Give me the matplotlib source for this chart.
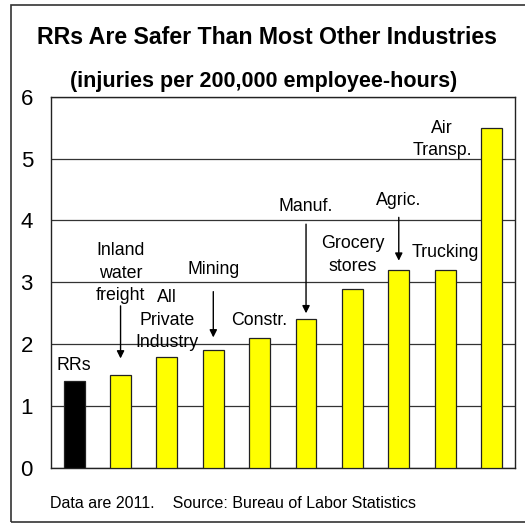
import matplotlib
matplotlib.use("Agg")
import matplotlib.pyplot as plt
from matplotlib.patches import Rectangle

plt.rcParams['font.family'] = ['Liberation Sans', 'DejaVu Sans']

# Injury rates by industry (2011)
industries = ["RRs", "Inland water freight", "All Private Industry", "Mining", "Constr.",
              "Manuf.", "Grocery stores", "Agric.", "Trucking", "Air Transp."]
rates = [1.4, 1.5, 1.8, 1.9, 2.1, 2.4, 2.9, 3.2, 3.2, 5.5]
bar_colors = ["black"] + ["#ffff00"] * 9
y_ticks = [0, 1, 2, 3, 4, 5, 6]

# Category labels: (text, x position in category units, y position in data units)
labels = [
    ("RRs", 0, 1.65),
    ("Inland\nwater\nfreight", 1, 3.15),
    ("All\nPrivate\nIndustry", 2, 2.39),
    ("Mining", 3, 3.21),
    ("Constr.", 4, 2.39),
    ("Manuf.", 5, 4.23),
    ("Grocery\nstores", 6, 3.44),
    ("Agric.", 7, 4.32),
    ("Trucking", 8, 3.49),
    ("Air\nTransp.", 7.93, 5.31),
]
# Pointer arrows: (x, y start, y end)
arrows = [(1, 2.62, 1.77), (3, 2.85, 2.11), (5, 3.94, 2.50), (7, 4.05, 3.35)]

W, H = 525, 523
fig = plt.figure(figsize=(W / 100, H / 100), dpi=100)
ax = fig.add_axes([51 / W, 1 - 468 / H, (514.7 - 51) / W, (468 - 96.7) / H])

x = list(range(len(rates)))
ax.bar(x, rates, width=0.45, color=bar_colors, edgecolor="#222222", linewidth=0.9, zorder=3)

ax.set_xlim(-0.5, len(rates) - 0.5)
ax.set_ylim(0, 6)
ax.set_yticks(y_ticks)
ax.set_yticklabels([str(t) for t in y_ticks], fontsize=16)
ax.tick_params(axis="y", length=0, pad=13)
ax.set_xticks([])
ax.yaxis.grid(True, color="#333333", linewidth=0.9)
ax.set_axisbelow(True)
for s in ax.spines.values():
    s.set_color("#222222")
    s.set_linewidth(1.0)

for text, xp, yp in labels:
    ax.text(xp, yp, text, ha="center", va="center", fontsize=12.8, linespacing=1.42, zorder=4)

for xa, y0, y1 in arrows:
    ax.annotate("", xy=(xa, y1), xytext=(xa, y0),
                arrowprops=dict(arrowstyle="-|>", color="black", lw=1.0,
                                mutation_scale=11, shrinkA=0, shrinkB=0), zorder=4)

# Titles and footer
fig.text(267 / W, 1 - 37 / H, "RRs Are Safer Than Most Other Industries",
         ha="center", va="center", fontsize=16.7, fontweight="bold")
fig.text(263.5 / W, 1 - 82 / H, "(injuries per 200,000 employee-hours)",
         ha="center", va="center", fontsize=15.5, fontweight="bold")
fig.text(50 / W, 1 - 503 / H, "Data are 2011.    Source: Bureau of Labor Statistics",
         ha="left", va="center", fontsize=11.5)

# Outer frame
fig.patches.append(Rectangle((11 / W, 1 - 522 / H), 1.0, (522 - 5) / H,
                             transform=fig.transFigure, fill=False,
                             edgecolor="#333333", linewidth=1.2))

fig.savefig("out.png", dpi=100)
